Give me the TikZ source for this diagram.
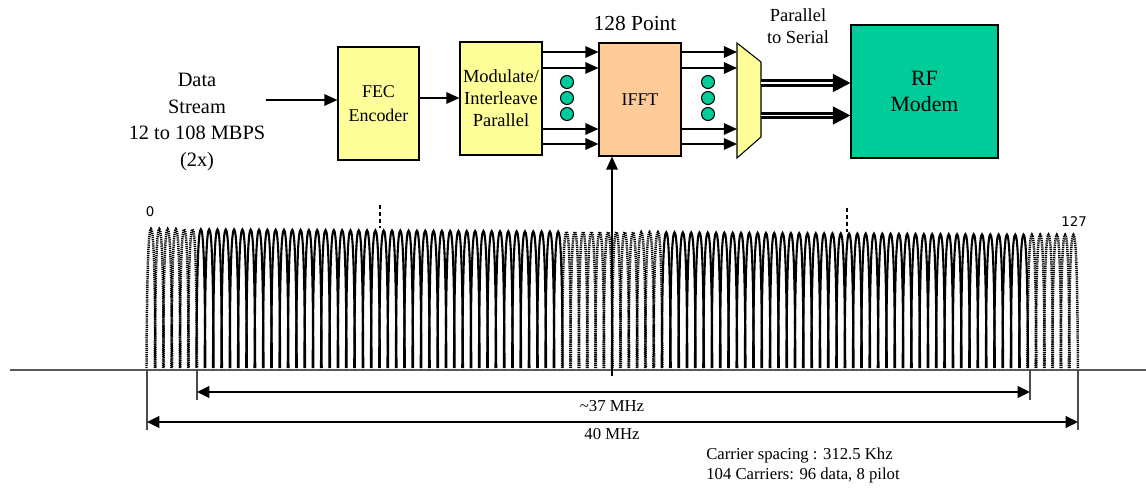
\documentclass[tikz,border=0pt]{standalone}
\usepackage{fontspec}
\setmainfont{Liberation Serif}
\newfontfamily\labelsans{DejaVu Sans}
\usepackage{tikz}
\usetikzlibrary{arrows.meta}
\definecolor{blockyellow}{HTML}{FFFF99}
\definecolor{blockpeach}{HTML}{FFCC99}
\definecolor{blockgreen}{HTML}{00CC99}
\tikzset{
  box/.style={rectangle, draw, line width=0.6pt, align=center, fill=blockyellow, inner sep=1pt},
  fbox/.style={box, fill=blockpeach},
  rbox/.style={box, fill=blockgreen},
  txt/.style={align=center, inner sep=0pt},
  arr/.style={-{Triangle[length=7.5pt,width=6.5pt]}, line width=1.1pt},
  warr/.style={-{Triangle[length=10pt,width=10pt]}, line width=1.6pt, double, double distance=1pt},
  dimarr/.style={{Triangle[length=7pt,width=6.5pt]}-{Triangle[length=7pt,width=6.5pt]}, line width=1.4pt},
  tickline/.style={draw=black!70, line width=0.6pt},
  axisline/.style={draw=black!65, line width=1pt},
  lobe/.style={line width=1.2pt},
  dotlobe/.style={line width=1.4pt, dash pattern=on 0.7pt off 0.5pt},
  marker/.style={line width=1.3pt, dash pattern=on 2.3pt off 1.7pt},
  bead/.style={circle, draw, line width=0.6pt, fill=blockgreen, minimum size=0.26cm, inner sep=0pt}
}
\newcommand\lobe[3]{\draw[#1] (#2-4.5,368) .. controls (#2-4,#3+30) and (#2-2.2,#3) .. (#2,#3) .. controls (#2+2.2,#3) and (#2+4,#3+30) .. (#2+4.5,368);}

\begin{document}
\begin{tikzpicture}[x=0.02cm, y=-0.02cm]
  \useasboundingbox (0,0) rectangle (1146,489);
  \node[txt, font=\fontsize{11.6}{15.1}\selectfont] (src) at (197,122) {Data\\Stream\\12 to 108 MBPS\\(2x)};
  \node[box, minimum width=1.62cm, minimum height=2.26cm, font=\fontsize{10.2}{13.6}\selectfont] (fec) at (378.5,103.5) {FEC\\Encoder};
  \node[box, minimum width=1.64cm, minimum height=2.26cm, font=\fontsize{10.5}{12.5}\selectfont] (mod) at (501,98.5) {Modulate/\\Interleave\\Parallel};
  \node[fbox, minimum width=1.64cm, minimum height=2.26cm, font=\fontsize{10.2}{12}\selectfont] (ifft) at (640,99.5) {IFFT};
  \node[txt, font=\fontsize{12.2}{14}\selectfont] (pts) at (635,23) {128 Point};
  \node[rbox, minimum width=2.94cm, minimum height=2.66cm, font=\fontsize{12.4}{14.7}\selectfont] (rf) at (924.5,91.5) {RF\\Modem};
  \node[txt, font=\fontsize{10.5}{12.5}\selectfont] (p2s) at (798,26) {Parallel\\to Serial};
  \coordinate (mux-nw) at (737,43);
  \coordinate (mux-ne) at (761,62);
  \coordinate (mux-se) at (761,137);
  \coordinate (mux-sw) at (737,158);
  \draw[fill=blockyellow, line width=0.6pt] (mux-nw) -- (mux-ne) -- (mux-se) -- (mux-sw) -- cycle;

  \draw[arr] (src.east |- 0,100) -- (fec.west |- 0,100);
  \draw[arr] (fec.east |- 0,98) -- (mod.west |- 0,98);
  \foreach \y in {52,68,129,144} {
    \draw[arr] (mod.east |- 0,\y) -- (ifft.west |- 0,\y);
    \draw[arr] (ifft.east |- 0,\y) -- (mux-nw |- 0,\y);
  }
  \foreach \y [count=\k] in {82,98,114} {
    \node[bead] (ba\k) at (567,\y) {};
    \node[bead] (bb\k) at (708,\y) {};
  }
  \draw[warr] (mux-ne |- 0,83) -- (rf.west |- 0,83);
  \draw[warr] (mux-ne |- 0,115.5) -- (rf.west |- 0,115.5);

  \foreach \i in {0,...,111} {
    \pgfmathsetmacro\xc{151+8.31*\i}
    \pgfmathsetmacro\yt{229+6*\i/111}
    \pgfmathtruncatemacro\dt{or(\i<6, or(\i>105, and(\i>49,\i<62)))}
    \ifnum\dt=1 \lobe{dotlobe}{\xc}{\yt}\else\lobe{lobe}{\xc}{\yt}\fi
  }
  \draw[axisline] (10,370) -- (1146,370);
  \draw[marker] (380,205) -- (380,228);
  \draw[marker] (847,208) -- (847,232);
  \node[font=\labelsans\fontsize{7.6}{10}\selectfont, inner sep=0pt] (c0) at (150,212) {0};
  \node[font=\labelsans\fontsize{7.6}{10}\selectfont, inner sep=0pt] (c127) at (1074,222) {127};

  \coordinate (dc) at (612,376);
  \draw[arr] (dc) -- (dc |- ifft.south);

  \coordinate (f0) at (147,370);
  \coordinate (f1) at (197,370);
  \coordinate (f2) at (1030,370);
  \coordinate (f3) at (1078,370);
  \draw[tickline] (f0) -- ++(0,60);
  \draw[tickline] (f1) -- ++(0,30);
  \draw[tickline] (f2) -- ++(0,30);
  \draw[tickline] (f3) -- ++(0,60);
  \draw[dimarr] (f1 |- 0,392) -- (f2 |- 0,392);
  \draw[dimarr] (f0 |- 0,422) -- (f3 |- 0,422);
  \node[txt, font=\fontsize{9.5}{11.9}\selectfont] (bw37) at (612,406) {\textasciitilde37 MHz};
  \node[txt, font=\fontsize{9.5}{11.9}\selectfont] (bw40) at (612,434) {40 MHz};
  \node[txt, align=left, anchor=west, font=\fontsize{9.5}{11.9}\selectfont] (note) at (706,465.5) {Carrier spacing : 312.5 Khz\\104 Carriers: 96 data, 8 pilot};
\end{tikzpicture}
\end{document}
